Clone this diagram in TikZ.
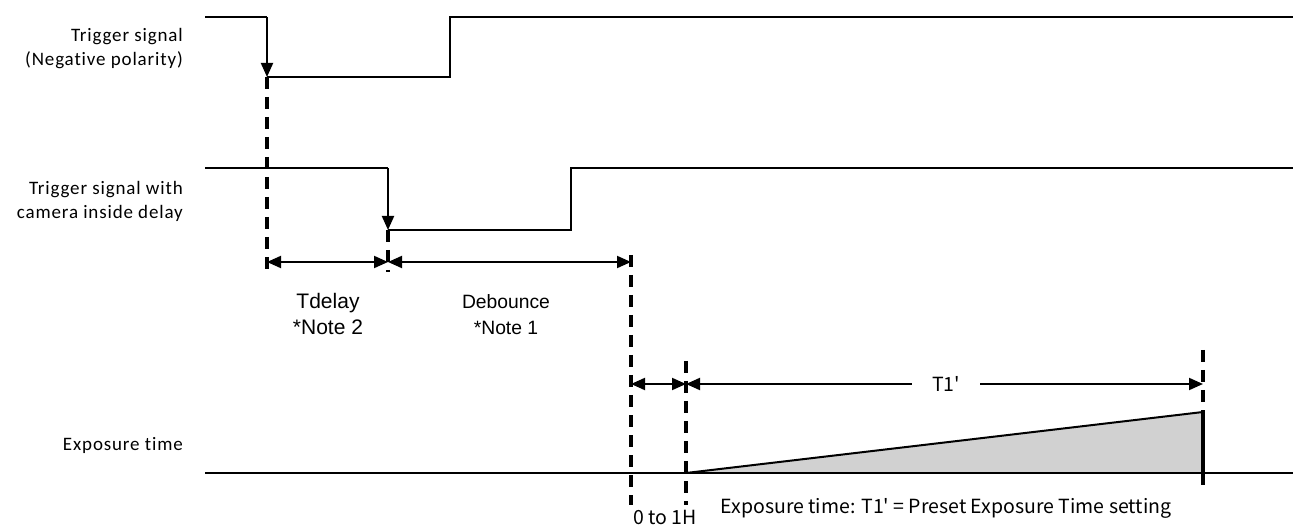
\documentclass[tikz,border=0pt]{standalone}
\usepackage{fontspec}
\setmainfont[Ligatures={NoCommon},LetterSpace=4.5]{Carlito}
\newfontfamily\arialf{Liberation Sans}
\newfontfamily\gothf{Noto Sans CJK JP}
\usetikzlibrary{arrows.meta}
\begin{document}
\begin{tikzpicture}[x=1pt,y=-1pt,
  sig/.style={line width=2pt},
  guide/.style={line width=3.2pt,dash pattern=on 12pt off 8pt},
  tip/.style={-{Triangle[length=14pt,width=12pt]}},
  dim/.style={line width=2pt,{Triangle[length=14pt,width=12pt]}-{Triangle[length=14pt,width=12pt]}},
  lbl/.style={font=\fontsize{19}{24}\selectfont,align=right,anchor=base east,inner sep=0pt},
  note/.style={font=\arialf\fontsize{21}{26}\selectfont,align=center,anchor=base,inner sep=0pt},
  goth/.style={font=\gothf\fontsize{19.5}{22}\selectfont,inner sep=0pt}]
\useasboundingbox (0,0) rectangle (1293,526);
% coordinates
\coordinate (a0) at (205,17);
\coordinate (a1) at (267,17);
\coordinate (a2) at (267,77);
\coordinate (a3) at (450,77);
\coordinate (a4) at (450,17);
\coordinate (a5) at (1293,17);
\coordinate (b0) at (205,168);
\coordinate (b1) at (388,168);
\coordinate (b2) at (388,230);
\coordinate (b3) at (571,230);
\coordinate (b4) at (571,168);
\coordinate (b5) at (1293,168);
\coordinate (e0) at (205,473);
\coordinate (e1) at (686,473);
\coordinate (e2) at (1203,412);
\coordinate (e3) at (1203,473);
\coordinate (e4) at (1293,473);
% guides
\coordinate (g1b) at (267,272);
\coordinate (g2b) at (388,272);
\coordinate (g3t) at (631,255);
\coordinate (g3b) at (631,505);
\coordinate (g4t) at (686,361);
\coordinate (g4b) at (686,505);
\coordinate (g5t) at (1203,350);
\coordinate (g5b) at (1203,489);
% dimension points
\coordinate (d1) at (267,262);
\coordinate (d2) at (388,262);
\coordinate (d3) at (631,262);
\coordinate (d4) at (631,384);
\coordinate (d5) at (686,384);
\coordinate (d6) at (1203,384);
% shaded exposure
\fill[black!18] (e1) -- (e2) -- (e3) -- cycle;
\draw[sig] (e1) -- (e2);
% signals
\draw[sig] (a0) -- (a1);
\draw[sig,tip] (a1) -- (a2);
\draw[sig] (a2) -- (a3) -- (a4) -- (a5);
\draw[sig] (b0) -- (b1);
\draw[sig,tip] (b1) -- (b2);
\draw[sig] (b2) -- (b3) -- (b4) -- (b5);
\draw[sig] (e0) -- (e4);
% guides
\draw[guide] (a2) -- (g1b);
\draw[guide] (b2) -- (g2b);
\draw[guide] (g3t) -- (g3b);
\draw[guide] (g4t) -- (g4b);
\draw[guide] (g5t) -- (e2);
\draw[line width=3.2pt] (e2) -- (e3);
\draw[guide] (e3) -- (g5b);
% dimensions
\draw[dim] (d1) -- (d2);
\draw[dim] (d2) -- (d3);
\draw[dim] (d4) -- (d5);
\draw[dim] (d5) -- (d6);
\node[goth,fill=white,inner xsep=20pt,inner ysep=4pt] (t1) at (946,384) {T1'};
% labels
\node[lbl] (l1) at (183,65.5) {Trigger signal\\(Negative polarity)};
\node[lbl] (l2) at (183,219) {Trigger signal with\\camera inside delay};
\node[lbl] (l3) at (183,450) {Exposure time};
\node[note] (n1) at (328,335) {Tdelay\\*Note 2};
\node[note,font=\arialf\fontsize{19.3}{26}\selectfont] (n2) at (506,335) {Debounce\\*Note 1};
\node[goth] (n3) at (665,517) {0 to 1H};
\node[goth] (n4) at (946,508) {Exposure time: T1' = Preset Exposure Time setting};
\end{tikzpicture}
\end{document}
